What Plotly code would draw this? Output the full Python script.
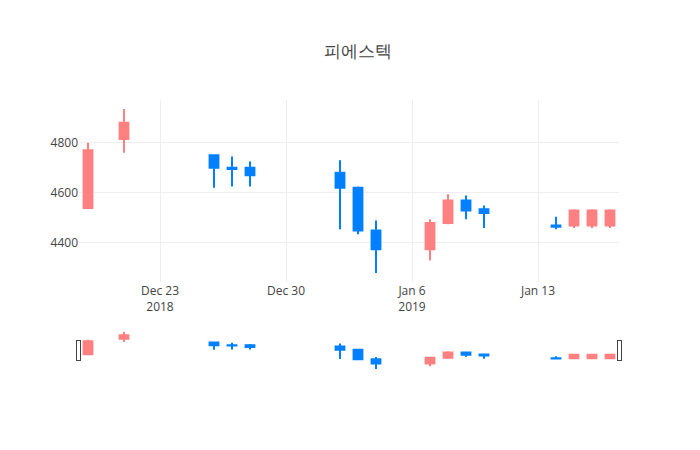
import plotly.graph_objects as go

dates = ["2018-12-19","2018-12-21","2018-12-26","2018-12-27","2018-12-28",
         "2019-01-02","2019-01-03","2019-01-04","2019-01-07","2019-01-08",
         "2019-01-09","2019-01-10","2019-01-14","2019-01-15","2019-01-16","2019-01-17"]
opens  = [4540,4815,4750,4700,4700,4680,4620,4450,4375,4480,4570,4535,4470,4470,4470,4470]
highs  = [4800,4935,4750,4745,4725,4730,4625,4490,4495,4595,4590,4550,4505,4535,4535,4535]
lows   = [4540,4760,4620,4625,4625,4455,4435,4280,4330,4475,4495,4460,4455,4460,4460,4460]
closes = [4770,4880,4700,4695,4670,4620,4450,4375,4480,4570,4530,4520,4465,4530,4530,4530]

fig = go.Figure(go.Candlestick(
    x=dates, open=opens, high=highs, low=lows, close=closes,
    increasing=dict(line=dict(color="#FF8080"), fillcolor="#FF8080"),
    decreasing=dict(line=dict(color="#0080FF"), fillcolor="#0080FF"),
))
fig.update_layout(
    template="none", width=700, height=450,
    font=dict(color="#444"),
    margin=dict(l=71, r=89, t=92, b=88),
    title=dict(text="피에스텍", x=0.5, xanchor="center", y=0.905, yanchor="middle"),
    xaxis=dict(rangeslider=dict(visible=True), gridcolor="#eee", showline=False),
    yaxis=dict(tickvals=[4400,4600,4800], gridcolor="#eee", zeroline=False),
)
fig.write_html("out.html")
